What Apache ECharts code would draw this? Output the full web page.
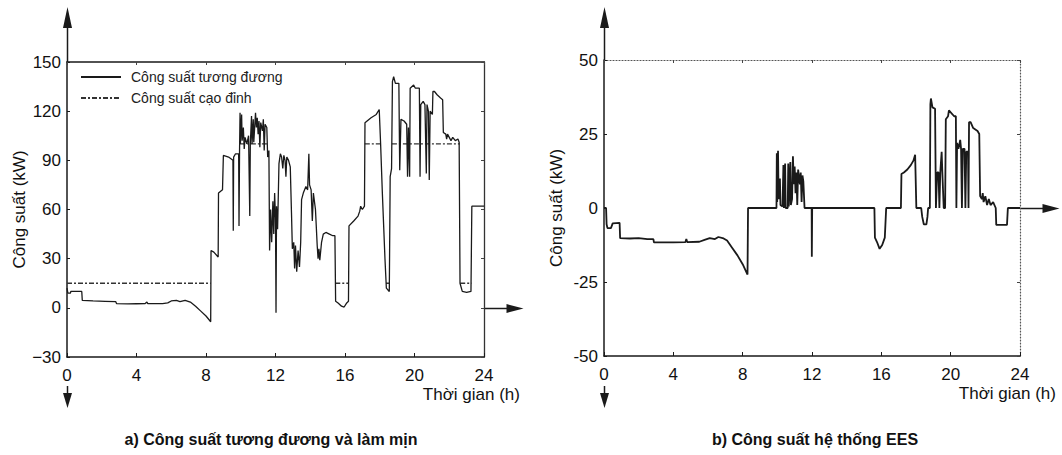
<!DOCTYPE html>
<html>
<head>
<meta charset="utf-8">
<title>Công suất tương đương và hệ thống EES</title>
<script src="https://cdn.jsdelivr.net/npm/echarts@6/dist/echarts.min.js"></script>
<style>
  html, body { margin: 0; padding: 0; background: #fff; }
  #chart { width: 1062px; height: 455px; }
</style>
</head>
<body>
<div id="chart"></div>
<script>
// Time axis (hours) shared by both panels
const hourTicks = [0, 4, 8, 12, 16, 20, 24];
// Power axis ticks (kW)
const powerTicksA = [-30, 0, 30, 60, 90, 120, 150];
const powerTicksB = [-50, -25, 0, 25, 50];

// a) Equivalent power (kW) over the day
const loadHour = [
  0.00, 0.05, 0.20, 0.22, 0.85, 0.88, 1.5, 2.2, 2.8, 2.85, 3.5, 4.0, 4.5, 4.6, 4.65, 5.5, 5.8, 6.0, 6.3, 6.5,
  6.8, 7.1, 7.4, 7.7, 8.0, 8.27, 8.29, 8.45, 8.7, 8.72, 8.95, 9.0, 9.3, 9.55, 9.57, 9.59, 9.7, 9.88, 9.9, 9.93,
  9.96, 9.98, 10.05, 10.08, 10.15, 10.2, 10.25, 10.35, 10.45, 10.52, 10.55, 10.62, 10.65, 10.72, 10.75, 10.85, 10.9, 10.95, 11.0, 11.05,
  11.1, 11.15, 11.25, 11.3, 11.35, 11.4, 11.5, 11.55, 11.62, 11.66, 11.72, 11.78, 11.85, 11.9, 11.95, 12.0, 12.03, 12.06, 12.12, 12.2,
  12.28, 12.35, 12.42, 12.48, 12.55, 12.6, 12.65, 12.75, 12.85, 12.92, 12.97, 13.05, 13.1, 13.15, 13.22, 13.3, 13.38, 13.45, 13.5, 13.6,
  13.75, 13.85, 13.92, 13.96, 14.05, 14.12, 14.18, 14.3, 14.4, 14.45, 14.5, 14.55, 14.65, 14.75, 14.9, 15.1, 15.3, 15.42, 15.46, 15.6,
  15.8, 15.95, 16.1, 16.2, 16.23, 16.5, 16.75, 16.85, 16.9, 17.0, 17.12, 17.15, 17.5, 17.8, 17.97, 18.05, 18.15, 18.3, 18.38, 18.55,
  18.6, 18.68, 18.73, 18.8, 18.9, 19.1, 19.15, 19.22, 19.4, 19.55, 19.6, 19.65, 19.72, 19.75, 19.95, 20.05, 20.28, 20.32, 20.36, 20.5,
  20.6, 20.68, 20.72, 20.8, 20.85, 20.9, 21.03, 21.06, 21.15, 21.3, 21.5, 21.62, 21.66, 21.8, 21.85, 21.9, 22.0, 22.1, 22.2, 22.35,
  22.5, 22.57, 22.62, 22.75, 23.0, 23.25, 23.3, 24.0
];
const loadKW = [
  12, 9, 9, 10, 10, 4.5, 4.2, 4.0, 3.8, 2.6, 2.4, 2.5, 2.6, 3.5, 2.6, 2.6, 3.0, 4.2, 4.5, 3.8,
  4.6, 3.5, 1.0, -2, -5, -8.5, 35, 34, 31, 70, 72, 93, 92, 90, 47, 92, 94, 94, 50, 95,
  119, 100, 118, 102, 110, 97, 104, 100, 105, 56, 100, 117, 100, 115, 101, 119, 110, 116, 106, 114,
  98, 113, 108, 115, 96, 112, 110, 92, 96, 35, 60, 40, 65, 45, 70, 55, -3, 62, 48, 88,
  94, 92, 85, 93, 90, 80, 92, 90, 86, 58, 36, 40, 24, 38, 22, 35, 25, 40, 66, 70,
  74, 72, 94, 75, 72, 53, 70, 60, 38, 30, 36, 29, 40, 45, 46, 45, 44, 44, 4, 3,
  1, 0.5, 3, 4, 50, 53, 56, 59, 62, 60, 62, 113, 116, 118, 121, 100, 70, 30, 12, 10,
  80, 85, 138, 141, 137, 137, 84, 115, 114, 112, 80, 110, 80, 134, 136, 134, 134, 80, 124, 126,
  124, 82, 124, 120, 78, 120, 118, 132, 132, 130, 128, 127, 107, 106, 103, 106, 104, 102, 104, 102,
  103, 101, 15, 10, 9.5, 10, 62, 62
];

// a) Peak-shaved power (kW); null marks a break where it runs along the equivalent power
const shavedHour = [0, 8.27, null, 9.95, 11.57, null, 15.44, 16.21, null, 17.14, 18.05, null, 18.36, 18.58, null, 18.7, 22.6, null, 22.63, 23.28];
const shavedKW   = [15, 15, null, 100, 100, null, 15, 15, null, 100, 100, null, 15, 15, null, 100, 100, null, 15, 15];

// b) EES system power (kW)
const eesHour = [
  0, 0.12, 0.15, 0.2, 0.4, 0.5, 0.9, 0.93, 1.5, 2.0, 2.5, 2.85, 2.88, 4.0, 4.7, 4.75, 4.8, 5.5, 5.8, 6.1,
  6.4, 6.6, 6.9, 7.1, 7.4, 7.7, 8.0, 8.28, 8.31, 9.95, 9.97, 9.99, 10.04, 10.07, 10.1, 10.15, 10.18, 10.3, 10.35, 10.38,
  10.45, 10.48, 10.6, 10.63, 10.66, 10.75, 10.78, 10.85, 10.9, 10.95, 11.0, 11.05, 11.1, 11.15, 11.2, 11.3, 11.35, 11.4, 11.45, 11.5,
  11.57, 11.98, 11.99, 12.01, 15.6, 15.63, 15.75, 15.9, 16.05, 16.2, 16.28, 17.13, 17.16, 17.3, 17.5, 17.7, 17.85, 17.95, 18.02, 18.3,
  18.36, 18.45, 18.6, 18.66, 18.7, 18.8, 18.83, 18.86, 18.95, 19.1, 19.15, 19.22, 19.3, 19.35, 19.4, 19.48, 19.52, 19.6, 19.68, 19.72,
  19.85, 19.9, 20.2, 20.3, 20.33, 20.37, 20.45, 20.55, 20.6, 20.65, 20.7, 20.8, 20.85, 20.9, 21.0, 21.03, 21.06, 21.15, 21.3, 21.55,
  21.65, 21.7, 21.8, 21.85, 21.9, 22.0, 22.1, 22.2, 22.3, 22.45, 22.6, 22.63, 23.25, 23.3, 24.0
];
const eesKW = [
  0, 0, -5.5, -6.8, -6.8, -5.2, -5, -10.2, -10.3, -10.2, -10.5, -10.5, -11.6, -11.6, -11.5, -10.5, -11.5, -11.4, -10.8, -10.2,
  -10.5, -9.8, -10.3, -11, -13.5, -16, -19, -22.5, 0, 0, 18.5, 2, 19.3, 5, 3, 10, 1, 0.5, 14.5, 0,
  15, 0, 0, 15, 0.5, 15.5, 1, 3, 17.5, 8, 14, 5, 12, 1, 13, 8, 12, 2, 11, 9,
  0, 0, -16.5, 0, 0, -10, -11.5, -13.8, -12.5, -10, 0, 0, 11.5, 12, 13, 14.5, 16, 18, 0, 0,
  -3, -5.5, -5.5, -3, 0, 0, 35, 37, 34, 33.5, 0, 12, 12, 0, 12, 19, 12, 0, 0, 30,
  31, 33, 31, 31, 0, 22, 20, 23, 20, 0, 20, 20, 0, 19, 19, 0, 29, 29, 27, 26,
  25, 4, 3, 5, 2, 4, 1, 3, 1, 2, 0, -5.7, -5.7, 0, 0
];

const pairs = (xs, ys) => xs.map((x, i) => (x === null || ys[i] === null) ? '-' : [x, ys[i]]);

const FONT = '"Liberation Sans", Arial, Helvetica, sans-serif';
const INK = '#1a1a1a';
const tickMin = t => t[0];
const tickMax = t => t[t.length - 1];
const tickStep = t => t[1] - t[0];

function bottomAxis(gridIndex) {
  return {
    type: 'value', gridIndex, position: 'bottom',
    min: tickMin(hourTicks), max: tickMax(hourTicks), interval: tickStep(hourTicks),
    axisLine: { show: true, onZero: false, lineStyle: { color: INK, width: 1.5 } },
    axisTick: { show: true, inside: true, length: 4, lineStyle: { color: INK } },
    axisLabel: { color: '#111', fontFamily: FONT, fontSize: 17, margin: 10 },
    splitLine: { show: false },
    name: 'Thời gian (h)', nameLocation: 'end', nameGap: 36,
    nameTextStyle: { color: '#111', fontFamily: FONT, fontSize: 17, align: 'right', verticalAlign: 'top', padding: [29, 0, 0, 0] }
  };
}
function topAxis(gridIndex, dotted) {
  return {
    type: 'value', gridIndex, position: 'top',
    min: tickMin(hourTicks), max: tickMax(hourTicks), interval: tickStep(hourTicks),
    axisLine: { show: true, onZero: false, lineStyle: { color: dotted ? '#555' : INK, width: dotted ? 1.2 : 1.5, type: dotted ? [1, 2] : 'solid' } },
    axisTick: { show: true, inside: true, length: 3, lineStyle: { color: '#444' } },
    axisLabel: { show: false }, splitLine: { show: false }
  };
}
function leftAxis(gridIndex, ticks, minusSign) {
  return {
    type: 'value', gridIndex, position: 'left',
    min: tickMin(ticks), max: tickMax(ticks), interval: tickStep(ticks),
    axisLine: { show: true, onZero: false, lineStyle: { color: INK, width: 1.5 } },
    axisTick: { show: true, inside: true, length: 3, lineStyle: { color: INK } },
    axisLabel: { color: '#111', fontFamily: FONT, fontSize: 17, margin: 6,
      formatter: v => String(v).replace('-', minusSign) },
    splitLine: { show: false },
    name: 'Công suất (kW)', nameLocation: 'middle', nameRotate: 90, nameGap: 39,
    nameTextStyle: { color: '#111', fontFamily: FONT, fontSize: 17 }
  };
}
function rightAxis(gridIndex, ticks, dotted) {
  return {
    type: 'value', gridIndex, position: 'right',
    min: tickMin(ticks), max: tickMax(ticks), interval: tickStep(ticks),
    axisLine: { show: true, onZero: false, lineStyle: { color: dotted ? '#555' : '#333', width: dotted ? 1.2 : 1.3, type: dotted ? [1, 2] : 'solid' } },
    axisTick: { show: true, inside: true, length: 3, lineStyle: { color: '#444' } },
    axisLabel: { show: false }, splitLine: { show: false }
  };
}

const chart = echarts.init(document.getElementById('chart'), null, { renderer: 'svg' });

chart.setOption({
  animation: false,
  backgroundColor: '#fff',
  textStyle: { fontFamily: FONT },
  grid: [
    { left: 67, top: 62, width: 417, height: 295 },
    { left: 604, top: 60, width: 416, height: 296 }
  ],
  xAxis: [bottomAxis(0), topAxis(0, false), bottomAxis(1), topAxis(1, true)],
  yAxis: [leftAxis(0, powerTicksA, '\u2212'), rightAxis(0, powerTicksA, false),
          leftAxis(1, powerTicksB, '-'), rightAxis(1, powerTicksB, true)],
  legend: {
    orient: 'vertical', left: 75, top: 65, itemWidth: 40, itemHeight: 14, itemGap: 7,
    data: ['Công suất tương đương', 'Công suất cạo đỉnh'],
    // legend keys show only the line sample, without a point marker
    itemStyle: { opacity: 0 },
    textStyle: { color: '#222', fontFamily: FONT, fontSize: 14, padding: [0, 0, 0, 5] }
  },
  title: [
    { text: 'a) Công suất tương đương và làm mịn', left: 266, top: 426, textAlign: 'center',
      textStyle: { color: '#111', fontFamily: FONT, fontSize: 16, fontWeight: 'bold' } },
    { text: 'b) Công suất hệ thống EES', left: 810, top: 426, textAlign: 'center',
      textStyle: { color: '#111', fontFamily: FONT, fontSize: 16, fontWeight: 'bold' } }
  ],
  series: [
    {
      name: 'Công suất cạo đỉnh', type: 'line', xAxisIndex: 0, yAxisIndex: 0,
      data: pairs(shavedHour, shavedKW), symbol: 'none', connectNulls: false,
      lineStyle: { color: '#333', width: 1.3, type: [5, 2, 2, 2] }, itemStyle: { color: '#333' }, z: 2
    },
    {
      name: 'Công suất tương đương', type: 'line', xAxisIndex: 0, yAxisIndex: 0,
      data: pairs(loadHour, loadKW), symbol: 'none',
      lineStyle: { color: INK, width: 1.3 }, itemStyle: { color: INK }, z: 3
    },
    {
      name: 'Công suất hệ thống EES', type: 'line', xAxisIndex: 2, yAxisIndex: 2,
      data: pairs(eesHour, eesKW), symbol: 'none',
      lineStyle: { color: INK, width: 1.8 }, itemStyle: { color: INK }, z: 3
    }
  ]
});

// Arrow-tipped axes drawn past the plot frames, anchored on the axis pixels
function arrows(gridIndex, yAxisIdx) {
  const toPx = v => chart.convertToPixel({ xAxisIndex: gridIndex * 2, yAxisIndex: yAxisIdx }, v);
  const origin = toPx([0, 0]);
  const end = toPx([tickMax(hourTicks), 0]);
  const top = toPx([0, tickMax(gridIndex ? powerTicksB : powerTicksA)]);
  const x0 = Math.round(origin[0]) + 0.5, y0 = Math.round(origin[1]) + 0.5, xe = Math.round(end[0]) + 0.5;
  const ty = top[1];
  const line = { stroke: INK, lineWidth: 1.5 };
  const fill = { fill: INK };
  return [
    { type: 'line', shape: { x1: x0, y1: 24, x2: x0, y2: ty }, style: line, silent: true },
    { type: 'polygon', shape: { points: [[x0, 7], [x0 - 4.5, 28], [x0 + 4.5, 28]] }, style: fill, silent: true },
    { type: 'line', shape: { x1: x0, y1: 386, x2: x0, y2: 396 }, style: line, silent: true },
    { type: 'polygon', shape: { points: [[x0, 408], [x0 - 4.5, 393], [x0 + 4.5, 393]] }, style: fill, silent: true },
    { type: 'line', shape: { x1: xe, y1: y0, x2: xe + 26, y2: y0 }, style: line, silent: true },
    { type: 'polygon', shape: { points: [[xe + 39, y0], [xe + 22, y0 - 4.5], [xe + 22, y0 + 4.5]] }, style: fill, silent: true }
  ];
}

chart.setOption({ graphic: arrows(0, 0).concat(arrows(1, 2)) });
</script>
</body>
</html>
